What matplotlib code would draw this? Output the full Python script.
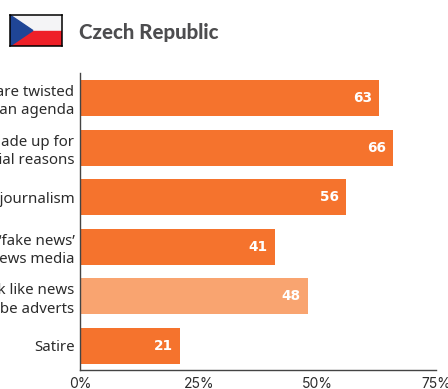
from matplotlib import pyplot as plt
from matplotlib.patches import Polygon, Rectangle

# Dados
labels = [
    "Stories where facts are twisted\nto push an agenda",
    "Stories that are made up for\npolitical or commercial reasons",
    "Poor journalism",
    "Use of the term \u2018fake news\u2019\nto discredit news media",
    "Headlines that look like news\nbut turn out to be adverts",
    "Satire",
]
values = [63, 66, 56, 41, 48, 21]
bar_colors = ["#f5732d", "#f5732d", "#f5732d", "#f5732d", "#f9a470", "#f5732d"]
ticks = [0, 25, 50, 75]
tick_labels = ["0%", "25%", "50%", "75%"]
title = "Czech Republic"

W, H = 448, 389
fig = plt.figure(figsize=(W/100, H/100), dpi=100)

# Gráfico
ax = fig.add_axes([80/W, 1 - 370/H, 356/W, 297/H])
ax.barh(range(len(values)), values, height=0.725, color=bar_colors)
ax.set_xlim(0, 75)
ax.set_ylim(5.484, -0.504)
ax.set_yticks(range(len(labels)))
ax.set_yticklabels(labels, family="Noto Sans", fontsize=10.8, color="#2b2b2b", linespacing=1.3)
ax.set_xticks(ticks)
ax.set_xticklabels(tick_labels, family="Inter", fontsize=10, color="#2b2b2b")
ax.tick_params(axis="y", length=0, pad=4)
ax.tick_params(axis="x", length=0, pad=5)
for s in ["top", "right"]:
    ax.spines[s].set_visible(False)
for s in ["left", "bottom"]:
    ax.spines[s].set_color("#444444")
    ax.spines[s].set_linewidth(1)
for i, v in enumerate(values):
    ax.annotate(str(v), (v, i), xytext=(-7, 0), textcoords="offset pixels", ha="right", va="center",
                color="white", family="DejaVu Sans", fontweight="bold", fontsize=9.8)

# Bandeira
flag = fig.add_axes([10/W, 1 - 46/H, 52/W, 31/H])
flag.set_xlim(0, 1)
flag.set_ylim(0, 1)
flag.set_xticks([])
flag.set_yticks([])
flag.add_patch(Rectangle((0, 0.5), 1, 0.5, color="#f4f4f6"))
flag.add_patch(Rectangle((0, 0), 1, 0.5, color="#ee2028"))
flag.add_patch(Polygon([(0, 0), (0, 1), (0.44, 0.5)], color="#1f4596"))
for s in flag.spines.values():
    s.set_linewidth(1.1)

fig.text(79/W, 1 - 33/H, title, family="Lato", fontweight="black", fontsize=14.7, color="#4d4d4f", va="center")

fig.savefig("out.png", dpi=100)
